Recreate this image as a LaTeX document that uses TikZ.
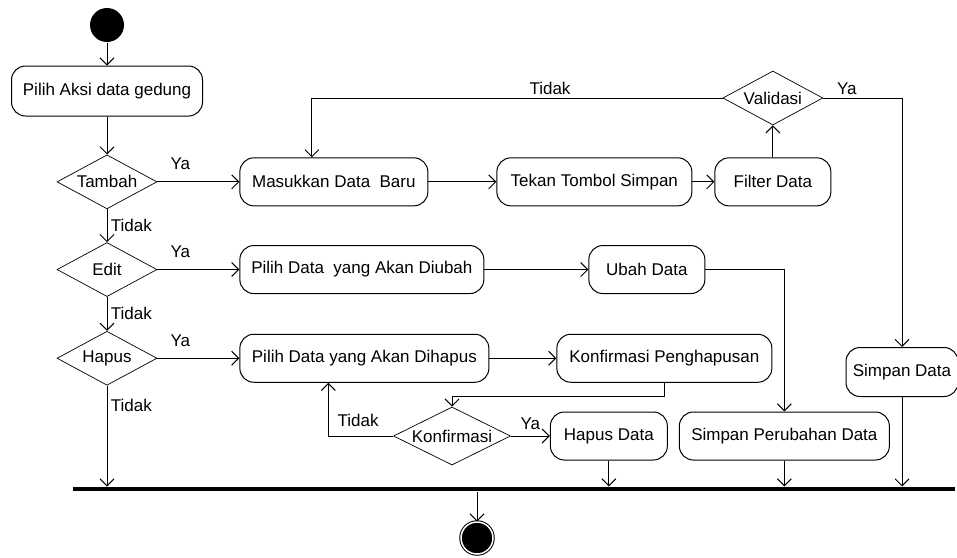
\documentclass[tikz,border=0pt]{standalone}
\usepackage{fontspec}
\setmainfont{Liberation Sans}
\usetikzlibrary{shapes.geometric, arrows.meta, positioning}

\begin{document}
\begin{tikzpicture}[x=1pt, y=-1pt,
  font=\fontsize{17}{20}\selectfont,
  line width=1pt,
  % Activity = rounded box
  activity/.style={rectangle, draw=black, rounded corners=14pt, minimum height=48pt, inner sep=0pt, align=center},
  % Decision = thin diamond
  decision/.style={diamond, draw=black, line width=0.7pt, aspect=2, inner sep=0pt, minimum width=100pt, minimum height=54pt},
  % Initial / final state
  startnode/.style={circle, fill=black, minimum size=34pt, inner sep=0pt},
  endnode/.style={circle, fill=black, draw=black, double=white, double distance=1.5pt, minimum size=32pt, inner sep=0pt},
  % Join bar
  joinbar/.style={rectangle, fill=black, minimum width=882pt, minimum height=4pt, inner sep=0pt},
  arrow/.style={-{Straight Barb[length=7pt, width=14pt]}}
]
\useasboundingbox (0,0) rectangle (957,557);

% ---- Start and main column ----
\node[startnode] (start) at (107,25) {};
\node[activity, minimum width=191pt, minimum height=50pt, below=23pt of start] (aksi) {Pilih Aksi data gedung};
\node[decision, below=38pt of aksi] (tambah) {Tambah};
\node[decision, below=33pt of tambah] (edit) {Edit};
\node[decision, below=34pt of edit] (hapus) {Hapus};

% ---- Tambah row ----
\node[activity, minimum width=188pt, right=82pt of tambah] (masukkan) {Masukkan Data\ \ Baru};
\node[activity, minimum width=195pt, right=68pt of masukkan] (tekan) {Tekan Tombol Simpan};
\node[activity, minimum width=116pt, right=22pt of tekan] (filter) {Filter Data};
\node[decision, above=32pt of filter] (validasi) {Validasi};
\node[activity, minimum width=112pt, minimum height=49pt] (simpan) at (902,372) {Simpan Data};

% ---- Edit row ----
\node[activity, minimum width=244pt, right=82pt of edit] (diubah) {Pilih Data\ \ yang Akan Diubah};
\node[activity, minimum width=116pt, right=104pt of diubah] (ubah) {Ubah Data};

% ---- Hapus row ----
\node[activity, minimum width=249pt, right=82pt of hapus] (dihapus) {Pilih Data yang Akan Dihapus};
\node[activity, minimum width=215pt, right=67pt of dihapus] (konfpeng) {Konfirmasi Penghapusan};
\node[decision, minimum width=117pt, minimum height=58pt] (konfirmasi) at (452,436) {Konfirmasi};
\node[activity, minimum width=117pt, right=39pt of konfirmasi] (hapusdata) {Hapus Data};
\node[activity, minimum width=210pt, right=11pt of hapusdata] (simpanper) {Simpan Perubahan Data};

% ---- Join bar and end ----
\node[joinbar] (join) at (514,489) {};
\node[endnode] (end) at (477,538) {};

% ---- Main flows ----
\draw[arrow] (start) -- (aksi);
\draw[arrow] (aksi) -- (tambah);
\draw[arrow] (tambah) -- (edit) node[midway, right] {Tidak};
\draw[arrow] (edit) -- (hapus) node[midway, right] {Tidak};
\draw[arrow] (hapus) -- (hapus |- join.north) node[pos=0.2, right] {Tidak};

% ---- Tambah flows ----
\draw[arrow] (tambah) -- (masukkan) node[pos=0.28, above=8pt] {Ya};
\draw[arrow] (masukkan) -- (tekan);
\draw[arrow] (tekan) -- (filter);
\draw[arrow] (filter) -- (validasi);
\draw[arrow] (validasi.west) -| ([xshift=-22pt]masukkan.north) node[pos=0.21, above] {Tidak};
\draw[arrow] (validasi.east) -| (simpan.north) node[pos=0.15, above] {Ya};
\draw[arrow] (simpan) -- (simpan |- join.north);

% ---- Edit flows ----
\draw[arrow] (edit) -- (diubah) node[pos=0.28, above=8pt] {Ya};
\draw[arrow] (diubah) -- (ubah);
\draw[arrow] (ubah.east) -| (simpanper.north);
\draw[arrow] (simpanper) -- (simpanper |- join.north);

% ---- Hapus flows ----
\draw[arrow] (hapus) -- (dihapus) node[pos=0.28, above=8pt] {Ya};
\draw[arrow] (dihapus) -- (konfpeng);
\draw[arrow] (konfpeng.south) -- ++(0,14) -| (konfirmasi.north);
\draw[arrow] (konfirmasi.west) -| ([xshift=-36pt]dihapus.south) node[pos=0.27, above=6pt] {Tidak};
\draw[arrow] (konfirmasi) -- (hapusdata) node[midway, above=3pt] {Ya};
\draw[arrow] (hapusdata) -- (hapusdata |- join.north);

\draw[arrow] (join.south -| end) -- (end);

\end{tikzpicture}
\end{document}
